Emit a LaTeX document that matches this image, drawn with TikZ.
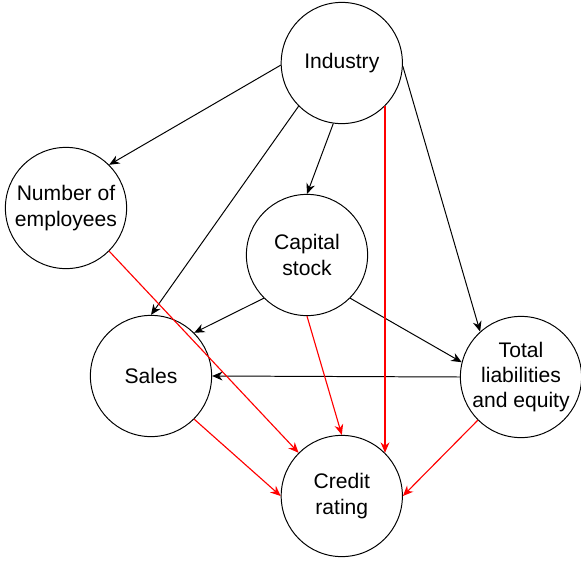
\documentclass[tikz,border=0pt]{standalone}
\usepackage{fontspec}
\setmainfont{Liberation Sans}
\usetikzlibrary{arrows.meta}

\begin{document}
\begin{tikzpicture}[x=0.025cm, y=-0.025cm, line width=0.7pt, >={Stealth[length=2.6mm, width=2.2mm]},
        var/.style={circle, draw, minimum size=3.03cm, inner sep=0pt, align=center, font=\fontsize{15}{18}\selectfont},
        effect/.style={->, red, line width=0.8pt}]
        \useasboundingbox (0,0) rectangle (581,561);

        \node[var] (industry) at (341.8,63) {Industry};
        \node[var] (employees) at (66,208) {Number of \\ employees};
        \node[var] (capital_stock) at (307,255) {Capital \\ stock};
        \node[var] (sales) at (151,376) {Sales};
        \node[var] (total_liab) at (521,377) {Total \\ liabilities \\ and equity};
        \node[var] (credit_rating) at (341.8,496) {Credit \\ rating};

        \draw[->] (industry.-178) -- (employees.north east);
        \draw[->] (industry.south west) -- (sales.north);
        \draw[->] (industry.-98) -- (capital_stock.north);
        \draw[->] (industry.-3) -- (total_liab.132);
        \draw[->] (capital_stock.south west) -- (sales.north east);
        \draw[->] (capital_stock.south east) -- (total_liab.166);
        \draw[->] (total_liab.west) -- (sales.east);

        \draw[effect] (employees.south east) -- (credit_rating.north west);
        \draw[effect] (sales.south east) -- (credit_rating.west);
        \draw[effect] (capital_stock.south) -- (credit_rating.north);
        \draw[effect] (industry.south east) -- (credit_rating.north east);
        \draw[effect] (total_liab.south west) -- (credit_rating.east);
\end{tikzpicture}
\end{document}
